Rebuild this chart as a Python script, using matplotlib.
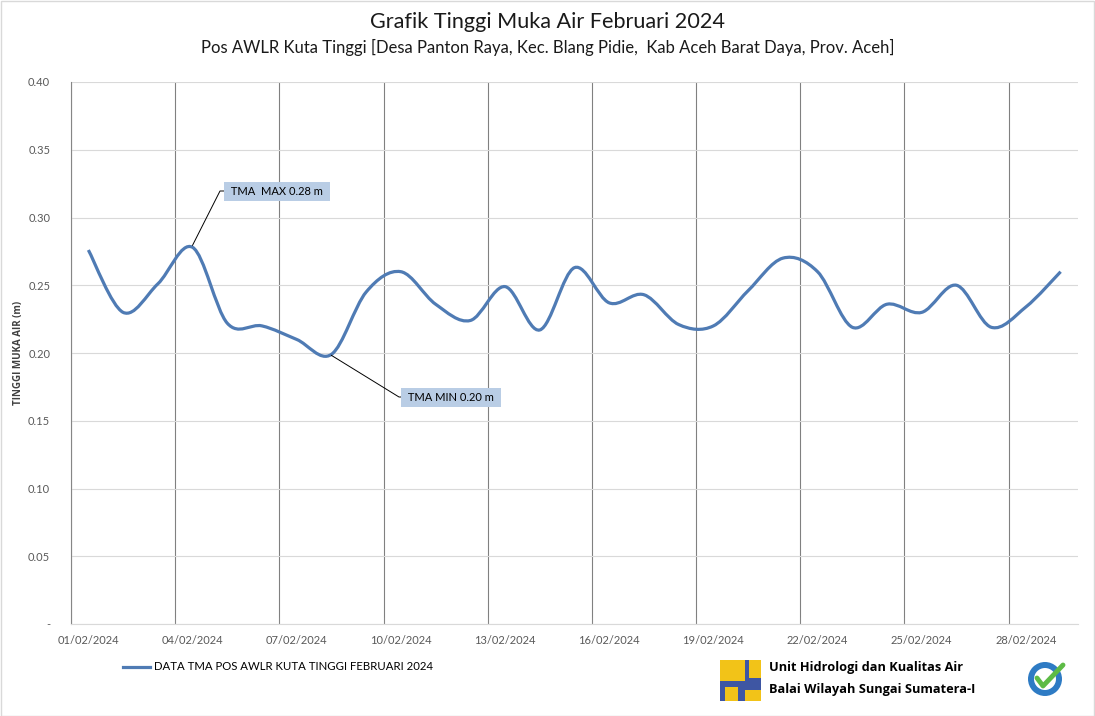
import matplotlib
matplotlib.use("Agg")
import matplotlib.pyplot as plt
from matplotlib.path import Path
from matplotlib.patches import PathPatch, Rectangle, Circle
from matplotlib.lines import Line2D
import numpy as np

# data TMA harian (m), 01/02/2024 - 29/02/2024
days = ["%02d/02/2024" % d for d in range(1, 30)]
tma = [0.276, 0.230, 0.251, 0.278, 0.222, 0.220, 0.210, 0.199, 0.245, 0.260,
       0.236, 0.224, 0.249, 0.217, 0.263, 0.237, 0.243, 0.221, 0.220, 0.246,
       0.270, 0.260, 0.219, 0.236, 0.230, 0.250, 0.219, 0.234, 0.260]
y_ticks = [0.0, 0.05, 0.10, 0.15, 0.20, 0.25, 0.30, 0.35, 0.40]
y_labels = ["-", "0.05", "0.10", "0.15", "0.20", "0.25", "0.30", "0.35", "0.40"]

plt.rcParams['font.family'] = ['Lato', 'DejaVu Sans']
bold_font = ['Open Sans', 'DejaVu Sans']

W, H = 1095, 716
fig = plt.figure(figsize=(W / 100, H / 100), dpi=100)
ax = fig.add_axes([71 / W, 1 - 624 / H, (1078 - 71) / W, (624 - 82) / H])

x = np.arange(len(tma))
y = np.array(tma)

# garis dihaluskan (bezier seperti smoothing excel)
xp = np.concatenate([[x[0]], x, [x[-1]]])
yp = np.concatenate([[y[0]], y, [y[-1]]])
verts = [(x[0], y[0])]
codes = [Path.MOVETO]
for i in range(1, len(xp) - 2):
    c1 = (xp[i] + (xp[i + 1] - xp[i - 1]) / 6, yp[i] + (yp[i + 1] - yp[i - 1]) / 6)
    c2 = (xp[i + 1] - (xp[i + 2] - xp[i]) / 6, yp[i + 1] - (yp[i + 2] - yp[i]) / 6)
    verts += [c1, c2, (xp[i + 1], yp[i + 1])]
    codes += [Path.CURVE4] * 3
line_color = "#4F7BB4"
ax.add_patch(PathPatch(Path(verts, codes), fill=False, edgecolor=line_color,
                       lw=2.3, capstyle='butt', zorder=3))

ax.set_xlim(-0.5, len(tma) - 0.5)
ax.set_ylim(0, 0.40)
ax.set_yticks(y_ticks)
ax.set_yticklabels(y_labels)
ax.set_xticks(x[::3])
ax.set_xticklabels(days[::3])
ax.set_xticks(np.arange(-0.5, len(tma), 3), minor=True)
ax.tick_params(axis='x', which='major', length=0, pad=8, labelsize=8, labelcolor="#595959")
ax.tick_params(axis='x', which='minor', length=5, color="#868686", direction='in')
ax.tick_params(axis='y', length=0, pad=15, labelsize=8, labelcolor="#595959")
ax.grid(axis='y', color="#D9D9D9", lw=0.8)
ax.grid(axis='x', which='minor', color="#808080", lw=0.8)
ax.set_axisbelow(True)
for s in ['top', 'right']:
    ax.spines[s].set_visible(False)
ax.spines['left'].set_color("#868686")
ax.spines['bottom'].set_color("#D9D9D9")
ax.set_ylabel("TINGGI MUKA AIR (m)", fontsize=7, fontweight='bold', family=bold_font,
              color="#404040", labelpad=3)

# judul
fig.text(0.5, 1 - 22 / H, "Grafik Tinggi Muka Air Februari 2024", ha='center', va='center',
         fontsize=15.6, color="#1a1a1a")
fig.text(0.5, 1 - 47 / H,
         "Pos AWLR Kuta Tinggi [Desa Panton Raya, Kec. Blang Pidie,  Kab Aceh Barat Daya, Prov. Aceh]",
         ha='center', va='center', fontsize=12, color="#1a1a1a")

# label max / min
fig.canvas.draw()
imax = int(np.argmax(y))
imin = int(np.argmin(y))
px, py = ax.transData.transform((x[imax], y[imax]))
fig.add_artist(Line2D([px, 220, 228], [py + 2, H - 191, H - 191], transform=None, color='black', lw=0.7))
fig.text(228 / W, 1 - 191.5 / H, " TMA  MAX %.2f m " % y[imax], ha='left', va='center', fontsize=8,
         bbox=dict(boxstyle='square,pad=0.35', fc="#B9CDE5", ec='none'))
px, py = ax.transData.transform((x[imin], y[imin]))
fig.add_artist(Line2D([px, 399, 405], [py - 1, H - 397, H - 397], transform=None, color='black', lw=0.7))
fig.text(405 / W, 1 - 397.5 / H, " TMA MIN %.2f m " % y[imin], ha='left', va='center', fontsize=8,
         bbox=dict(boxstyle='square,pad=0.35', fc="#B9CDE5", ec='none'))

# legenda
fig.legend(handles=[Line2D([], [], color=line_color, lw=2.3)],
           labels=["DATA TMA POS AWLR KUTA TINGGI FEBRUARI 2024"],
           loc='center left', bbox_to_anchor=(123 / W, 1 - 667 / H), frameon=False,
           fontsize=8.2, handlelength=2.4, handletextpad=0.3, borderpad=0, borderaxespad=0)

# logo PUPR
def px_rect(x0, y0, w, h, c):
    fig.add_artist(Rectangle((x0 / W, 1 - (y0 + h) / H), w / W, h / H, transform=fig.transFigure,
                             fc=c, ec='none'))

yellow, blue = "#F2C318", "#3E56A3"
px_rect(720, 660, 41, 41, blue)
px_rect(720, 660, 25, 21, yellow)
px_rect(749, 660, 12, 18, yellow)
px_rect(725, 687, 13, 14, yellow)
px_rect(745, 690, 16, 11, yellow)

fig.text(769 / W, 1 - 667 / H, "Unit Hidrologi dan Kualitas Air", ha='left', va='center',
         fontsize=9.2, fontweight='bold', family=bold_font, color='black')
fig.text(769 / W, 1 - 689 / H, "Balai Wilayah Sungai Sumatera-I", ha='left', va='center',
         fontsize=9.2, fontweight='bold', family=bold_font, color='black')

# badge ISO
bx, by = 1045, 679
ax_b = fig.add_axes([(bx - 22) / W, 1 - (by + 22) / H, 44 / W, 44 / H])
ax_b.set_xlim(-22, 22)
ax_b.set_ylim(-22, 22)
ax_b.set_aspect('equal')
ax_b.axis('off')
ax_b.add_patch(Circle((0, 0), 17, fc="#2E7BC4", ec='none'))
ax_b.add_patch(Circle((0, 0), 11, fc='white', ec='none'))
ax_b.plot([-8, -2, 18], [1, -7, 14], color="#5DBB46", lw=3.5, solid_capstyle='round')

# bingkai
fig.add_artist(Rectangle((0.5 / W, 0.5 / H), 1 - 1.5 / W, 1 - 1.5 / H, transform=fig.transFigure,
                         fill=False, ec="#D9D9D9", lw=1))

fig.savefig("out.png", dpi=100, facecolor='white')
